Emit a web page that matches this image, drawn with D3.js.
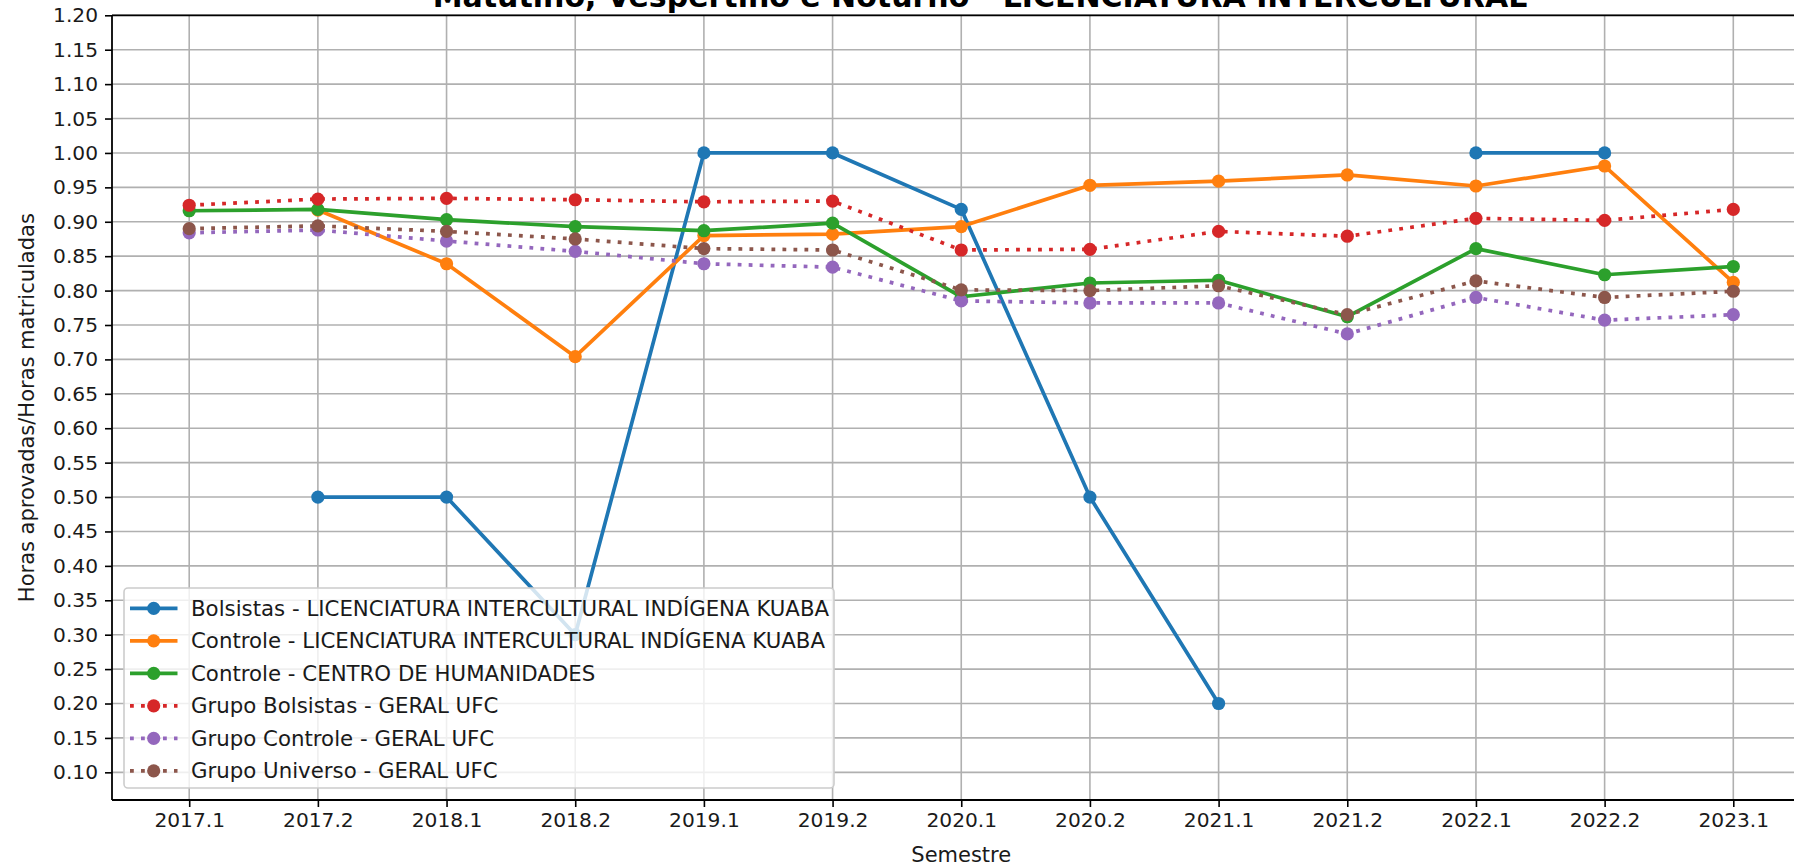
<!DOCTYPE html>
<html>
<head>
<meta charset="utf-8">
<script src="https://cdn.jsdelivr.net/npm/d3@7"></script>
<style>
  html, body { margin: 0; padding: 0; background: #ffffff; }
  svg { display: block; font-family: "DejaVu Sans", sans-serif; }
</style>
</head>
<body>
<svg id="chart" width="1794" height="865"></svg>
<script>
// Semesters on the x axis
const semesters = ["2017.1", "2017.2", "2018.1", "2018.2", "2019.1", "2019.2", "2020.1",
                   "2020.2", "2021.1", "2021.2", "2022.1", "2022.2", "2023.1"];

// Ratio of approved hours to enrolled hours per semester (null = no data)
const bolsistasKuaba = [null, 0.50, 0.50, 0.30, 1.00, 1.00, 0.918, 0.50, 0.20, null, 1.00, 1.00, null];
const controleKuaba  = [null, 0.917, 0.839, 0.704, 0.880, 0.882, 0.893, 0.953, 0.959, 0.968, 0.952, 0.981, 0.812];
const controleCH     = [0.916, 0.918, 0.903, 0.893, 0.887, 0.898, 0.791, 0.811, 0.815, 0.762, 0.861, 0.823, 0.835];
const grupoBolsistas = [0.924, 0.933, 0.934, 0.932, 0.929, 0.930, 0.859, 0.860, 0.886, 0.879, 0.905, 0.902, 0.918];
const grupoControle  = [0.884, 0.888, 0.872, 0.857, 0.839, 0.834, 0.785, 0.782, 0.782, 0.737, 0.790, 0.757, 0.765];
const grupoUniverso  = [0.890, 0.894, 0.886, 0.875, 0.861, 0.859, 0.801, 0.800, 0.807, 0.765, 0.814, 0.790, 0.799];

// Y axis ticks
const yTicks = [0.10, 0.15, 0.20, 0.25, 0.30, 0.35, 0.40, 0.45, 0.50, 0.55, 0.60, 0.65,
                0.70, 0.75, 0.80, 0.85, 0.90, 0.95, 1.00, 1.05, 1.10, 1.15, 1.20];

const seriesNames = [
  "Bolsistas - LICENCIATURA INTERCULTURAL INDÍGENA KUABA",
  "Controle - LICENCIATURA INTERCULTURAL INDÍGENA KUABA",
  "Controle - CENTRO DE HUMANIDADES",
  "Grupo Bolsistas - GERAL UFC",
  "Grupo Controle - GERAL UFC",
  "Grupo Universo - GERAL UFC"
];
const seriesValues = [bolsistasKuaba, controleKuaba, controleCH, grupoBolsistas, grupoControle, grupoUniverso];
const seriesColors = ["#1f77b4", "#ff7f0e", "#2ca02c", "#d62728", "#9467bd", "#8c564b"];
const seriesDotted = [false, false, false, true, true, true];

const titleText = "Matutino, Vespertino e Noturno - LICENCIATURA INTERCULTURAL";
const xLabel = "Semestre";
const yLabel = "Horas aprovadas/Horas matriculadas";

// Layout
const plot = { left: 112, right: 1810.5, top: 15.3, bottom: 800 };
const tickFont = 20.2;
const labelFont = 21;
const legendFont = 21.3;
const lineW = 3.7;
const markerR = 6.6;

const svg = d3.select("#chart");

const x = d3.scalePoint()
  .domain(semesters)
  .range([plot.left, plot.right])
  .padding(0.6);

const y = d3.scaleLinear()
  .domain([0.0598, 1.20])
  .range([plot.bottom, plot.top]);

// Grid
const grid = svg.append("g").attr("class", "grid");
grid.selectAll("line.gx")
  .data(semesters)
  .join("line")
  .attr("x1", d => x(d)).attr("x2", d => x(d))
  .attr("y1", plot.top).attr("y2", plot.bottom)
  .attr("stroke", "#b0b0b0").attr("stroke-width", 1.6);
grid.selectAll("line.gy")
  .data(yTicks)
  .join("line")
  .attr("x1", plot.left).attr("x2", plot.right)
  .attr("y1", d => y(d)).attr("y2", d => y(d))
  .attr("stroke", "#b0b0b0").attr("stroke-width", 1.6);

// Series: line then markers, in order
const line = d3.line()
  .defined(d => d.v !== null)
  .x(d => x(d.s))
  .y(d => y(d.v));

seriesValues.forEach((vals, i) => {
  const pts = vals.map((v, j) => ({ s: semesters[j], v }));
  const g = svg.append("g").attr("class", "series");
  g.append("path")
    .datum(pts)
    .attr("d", line)
    .attr("fill", "none")
    .attr("stroke", seriesColors[i])
    .attr("stroke-width", lineW)
    .attr("stroke-linejoin", "round")
    .attr("stroke-linecap", seriesDotted[i] ? "butt" : "square")
    .attr("stroke-dasharray", seriesDotted[i] ? "3.8,7.2" : null);
  g.selectAll("circle")
    .data(pts.filter(d => d.v !== null))
    .join("circle")
    .attr("cx", d => x(d.s))
    .attr("cy", d => y(d.v))
    .attr("r", markerR)
    .attr("fill", seriesColors[i]);
});

// Axes
const xAxis = svg.append("g")
  .attr("transform", `translate(0,${plot.bottom})`)
  .call(d3.axisBottom(x).tickSize(7).tickPadding(6));
const yAxis = svg.append("g")
  .attr("transform", `translate(${plot.left},0)`)
  .call(d3.axisLeft(y).tickValues(yTicks).tickFormat(d3.format(".2f")).tickSize(7).tickPadding(7));

[xAxis, yAxis].forEach(a => {
  a.select(".domain").attr("stroke", "#000").attr("stroke-width", 1.8);
  a.selectAll(".tick line").attr("stroke", "#000").attr("stroke-width", 1.6);
  a.selectAll(".tick text")
    .attr("fill", "#1a1a1a")
    .style("font-family", "DejaVu Sans, sans-serif")
    .style("font-size", tickFont + "px");
});
// Plain spines without end caps
xAxis.select(".domain").attr("d", `M${plot.left},0H${plot.right}`);
yAxis.select(".domain").attr("d", `M0,${plot.bottom}V${plot.top}`);

// Top spine
svg.append("line")
  .attr("x1", plot.left).attr("x2", plot.right)
  .attr("y1", plot.top).attr("y2", plot.top)
  .attr("stroke", "#000").attr("stroke-width", 1.8);

// Axis labels
svg.append("text")
  .attr("x", (plot.left + plot.right) / 2)
  .attr("y", 862)
  .attr("text-anchor", "middle")
  .attr("fill", "#1a1a1a")
  .style("font-size", labelFont + "px")
  .text(xLabel);

svg.append("text")
  .attr("transform", `translate(34,${(plot.top + plot.bottom) / 2}) rotate(-90)`)
  .attr("text-anchor", "middle")
  .attr("fill", "#1a1a1a")
  .style("font-size", labelFont + "px")
  .text(yLabel);

// Title
svg.append("text")
  .attr("x", 980)
  .attr("y", 7)
  .attr("text-anchor", "middle")
  .attr("fill", "#000")
  .style("font-size", "30px")
  .style("font-weight", "bold")
  .text(titleText);

// Legend
const legend = svg.append("g").attr("class", "legend");
const lg = { x: 124, y: 588, w: 710, h: 200, row0: 608.3, rowStep: 32.5 };
legend.append("rect")
  .attr("x", lg.x).attr("y", lg.y)
  .attr("width", lg.w).attr("height", lg.h)
  .attr("rx", 4).attr("ry", 4)
  .attr("fill", "#ffffff").attr("fill-opacity", 0.8)
  .attr("stroke", "#cccccc").attr("stroke-width", 1.6);

seriesNames.forEach((name, i) => {
  const cy = lg.row0 + i * lg.rowStep;
  legend.append("line")
    .attr("x1", 130).attr("x2", 177.5)
    .attr("y1", cy).attr("y2", cy)
    .attr("stroke", seriesColors[i])
    .attr("stroke-width", lineW)
    .attr("stroke-dasharray", seriesDotted[i] ? "3.8,7.2" : null);
  legend.append("circle")
    .attr("cx", 153.7).attr("cy", cy).attr("r", markerR)
    .attr("fill", seriesColors[i]);
  legend.append("text")
    .attr("x", 191).attr("y", cy)
    .attr("dominant-baseline", "central")
    .attr("fill", "#1a1a1a")
    .style("font-size", legendFont + "px")
    .text(name);
});
</script>
</body>
</html>
